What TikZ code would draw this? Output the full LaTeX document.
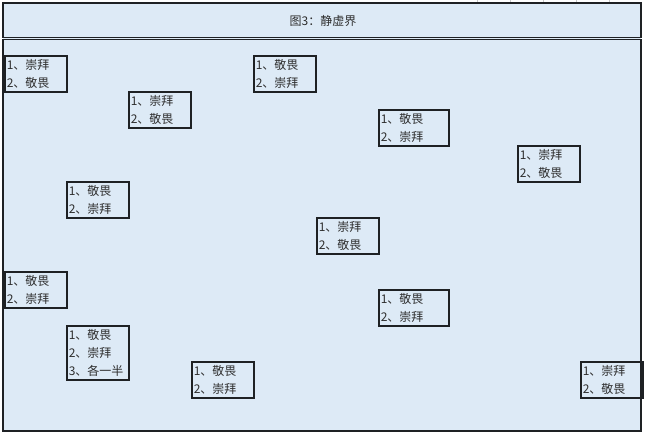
\documentclass[tikz,border=0pt]{standalone}
\usepackage{fontspec}
\setmainfont{Noto Sans CJK SC}
\definecolor{bgblue}{HTML}{DDEAF6}
\definecolor{frame}{HTML}{1E2124}
\definecolor{txt}{HTML}{2E2E2E}
\definecolor{grid}{HTML}{C8C8C8}
\begin{document}
\begin{tikzpicture}[x=1pt,y=-1pt,
  bx/.style={draw=frame, line width=1.5pt, anchor=north west, inner xsep=2pt, inner ysep=0pt,
    align=left, text=txt, font=\fontsize{12}{18}\selectfont, minimum height=36pt},
  w62/.style={text width=58pt},
  w70/.style={text width=66pt}]
\useasboundingbox (0,0) rectangle (645,434);
\fill[white] (0,0) rectangle (645,434);
% faint grid marks at top right
\foreach \gx in {477,510,543,576,609} \draw[grid, line width=0.6pt] (\gx,0) -- (\gx,3);
% frames
\fill[bgblue] (3,3) rectangle (641,431);
\draw[frame, line width=1.3pt] (3,3) rectangle (641,37.5);
\draw[frame, line width=1.3pt] (3,39.5) rectangle (641,431);
\node[text=txt, font=\fontsize{12}{14}\selectfont] (title) at (323,21) {图3：静虚界};
% boxes
\node[bx,w62] (b1)  at (4,55)    {1、崇拜\\2、敬畏};
\node[bx,w62] (b2)  at (128,91)  {1、崇拜\\2、敬畏};
\node[bx,w62] (b3)  at (253,55)  {1、敬畏\\2、崇拜};
\node[bx,w70] (b4)  at (378,109) {1、敬畏\\2、崇拜};
\node[bx,w62] (b5)  at (517,145) {1、崇拜\\2、敬畏};
\node[bx,w62] (b6)  at (66,181)  {1、敬畏\\2、崇拜};
\node[bx,w62] (b7)  at (316,217) {1、崇拜\\2、敬畏};
\node[bx,w62] (b8)  at (4,271)   {1、敬畏\\2、崇拜};
\node[bx,w62,minimum height=54pt] (b9) at (66,325) {1、敬畏\\2、崇拜\\3、各一半};
\node[bx,w62] (b10) at (191,361) {1、敬畏\\2、崇拜};
\node[bx,w70] (b11) at (378,289) {1、敬畏\\2、崇拜};
\node[bx,w62] (b12) at (580,361) {1、崇拜\\2、敬畏};
\end{tikzpicture}
\end{document}
